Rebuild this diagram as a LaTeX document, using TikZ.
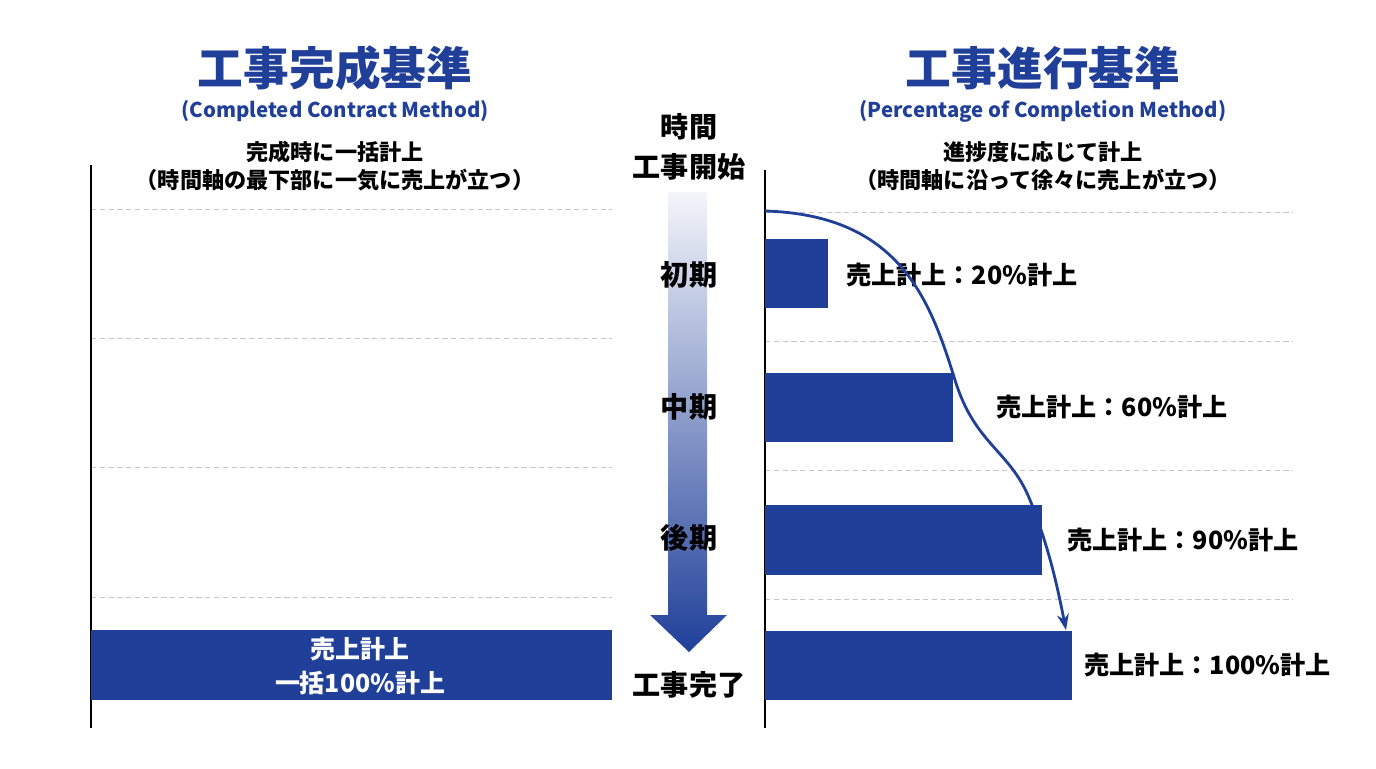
\documentclass[tikz,border=0pt]{standalone}
\usepackage{fontspec}
\setmainfont{Noto Sans CJK JP}
\usetikzlibrary{arrows.meta}
\definecolor{barblue}{HTML}{1F3F99}
\tikzset{
  title/.style={font=\fontsize{26}{30}\selectfont\bfseries, text=barblue},
  subtitle/.style={font=\fontsize{11.6}{14}\selectfont\bfseries, text=barblue},
  note/.style={font=\fontsize{12.6}{16}\selectfont\bfseries, align=center},
  phase/.style={font=\fontsize{16}{18}\selectfont\bfseries},
  barlabel/.style={font=\fontsize{14.3}{17}\selectfont\bfseries, anchor=west},
  guide/.style={draw=gray!45, densely dashed, line width=0.5pt},
  bar/.style={fill=barblue, draw=none}
}
\begin{document}
\begin{tikzpicture}[x=0.02cm,y=-0.02cm]
\useasboundingbox (0,0) rectangle (1376,768);

% left side
\node[title] (ltitle) at (335,68) {工事完成基準};
\node[subtitle] (lsub) at (335,111) {(Completed Contract Method)};
\node[note] (lnote) at (335,166) {完成時に一括計上\\（時間軸の最下部に一気に売上が立つ）};
\foreach \y in {209,338,467,597}{
\path[guide] (91,\y) -- (612,\y);
}
\path[draw, line width=1.2pt] (91,165) -- (91,728);
\path[bar] (91,630) rectangle (612,700);
\node[note, text=white, font=\fontsize{14.2}{19}\selectfont\bfseries] (lbar) at (360,666) {売上計上\\一括100\%計上};

% time arrow
\node[phase] (time) at (689,127) {時間};
\node[phase] (start) at (689,167) {工事開始};
\shade[top color=barblue!5, bottom color=barblue] (668,192) -- (707,192) -- (707,615) -- (727,615) -- (689,652) -- (650,615) -- (668,615) -- cycle;
\node[phase] (early) at (689,275) {初期};
\node[phase] (mid) at (689,407) {中期};
\node[phase] (late) at (689,538) {後期};
\node[phase] (done) at (689,685) {工事完了};

% right side
\node[title] (rtitle) at (1043,68) {工事進行基準};
\node[subtitle] (rsub) at (1043,111) {(Percentage of Completion Method)};
\node[note] (rnote) at (1043,166) {進捗度に応じて計上\\（時間軸に沿って徐々に売上が立つ）};
\foreach \y in {212,341,470,599}{
\path[guide] (765,\y) -- (1293,\y);
}
\path[draw, line width=1.2pt] (765,170) -- (765,728);
\path[bar] (765,239) rectangle (828,308);
\path[bar] (765,373) rectangle (953,442);
\path[bar] (765,505) rectangle (1042,575);
\path[bar] (765,631) rectangle (1072,700);
\node[barlabel] (p20) at (840,275) {売上計上：20\%計上};
\node[barlabel] (p60) at (990,407) {売上計上：60\%計上};
\node[barlabel] (p90) at (1061,540) {売上計上：90\%計上};
\node[barlabel] (p100) at (1078,665) {売上計上：100\%計上};
\coordinate (cstart) at (765,211);
\coordinate (cend) at (1066,630);
\path[draw, barblue, line width=1.6pt, -{Stealth[length=9pt]}] (cstart) .. controls (900,215) and (930,300) .. (955,380) .. controls (975,445) and (1010,450) .. (1030,500) .. controls (1050,550) and (1058,590) .. (cend);
\end{tikzpicture}
\end{document}
